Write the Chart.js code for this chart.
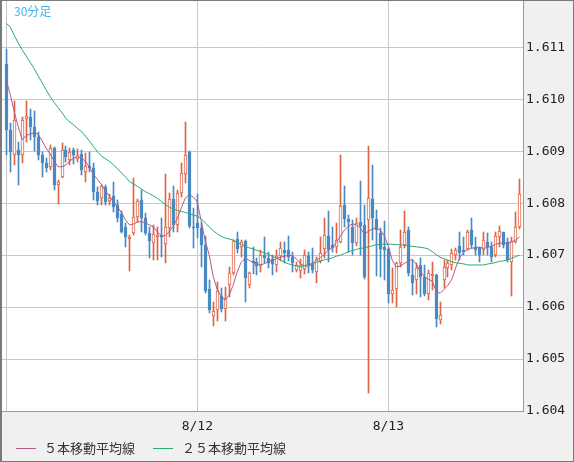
<!DOCTYPE html>
<html>
<head>
<meta charset="utf-8">
<script src="https://cdn.jsdelivr.net/npm/chart.js@4.4.1/dist/chart.umd.min.js"></script>
<style>
  html, body { margin: 0; padding: 0; background: #f0f0f0; }
  #wrap { position: relative; width: 574px; height: 462px; overflow: hidden; }
  #chart { position: absolute; left: 0; top: 0; }
  .title { position: absolute; left: 14px; top: 2px; font: 12px "Noto Sans CJK JP"; color: #45b3ea; }
  .legend { position: absolute; top: 440px; font: 13px "Noto Sans CJK JP"; color: #333; line-height: 16px; white-space: nowrap; }
  .swatch { position: absolute; top: 448px; width: 20px; height: 1px; }
</style>
</head>
<body>
<div id="wrap">
  <canvas id="chart" width="574" height="462"></canvas>
  <div class="title">30分足</div>
  <div class="swatch" style="left:16px; background:#b25c8e;"></div>
  <div class="legend" style="left:44px;">５本移動平均線</div>
  <div class="swatch" style="left:153px; background:#27ad70;"></div>
  <div class="legend" style="left:182px;">２５本移動平均線</div>
</div>
<script>
// 30分足 ローソク足 (1本 = 30分, 8/11 00:00 から)
const opens = [
  1.61067, 1.60941, 1.60893, 1.60903, 1.60893, 1.60962, 1.60966, 1.60947, 1.60928, 1.60893,
  1.60877, 1.60870, 1.60906, 1.60835, 1.60850, 1.60903, 1.60883, 1.60903, 1.60885, 1.60895,
  1.60860, 1.60872, 1.60868, 1.60821, 1.60810, 1.60831, 1.60804, 1.60814, 1.60796, 1.60779,
  1.60754, 1.60731, 1.60742, 1.60773, 1.60806, 1.60771, 1.60742, 1.60723, 1.60735, 1.60738,
  1.60721, 1.60752, 1.60808, 1.60758, 1.60820, 1.60856, 1.60899, 1.60754, 1.60762, 1.60752,
  1.60719, 1.60634, 1.60582, 1.60594, 1.60621, 1.60596, 1.60642, 1.60665, 1.60731, 1.60715,
  1.60727, 1.60642, 1.60688, 1.60686, 1.60679, 1.60700, 1.60694, 1.60692, 1.60681, 1.60698,
  1.60710, 1.60710, 1.60696, 1.60671, 1.60669, 1.60673, 1.60698, 1.60683, 1.60667, 1.60688,
  1.60711, 1.60737, 1.60719, 1.60715, 1.60725, 1.60796, 1.60769, 1.60754, 1.60723, 1.60764,
  1.60758, 1.60767, 1.60808, 1.60769, 1.60742, 1.60715, 1.60711, 1.60626, 1.60634, 1.60684,
  1.60719, 1.60748, 1.60661, 1.60652, 1.60681, 1.60657, 1.60626, 1.60659, 1.60661, 1.60576,
  1.60652, 1.60675, 1.60681, 1.60700, 1.60717, 1.60710, 1.60711, 1.60748, 1.60715, 1.60713,
  1.60710, 1.60725, 1.60715, 1.60700, 1.60735, 1.60744, 1.60725, 1.60686, 1.60725, 1.60754
];
const highs = [
  1.61097, 1.60955, 1.60997, 1.60918, 1.60966, 1.60997, 1.60982, 1.60978, 1.60937, 1.60899,
  1.60887, 1.60912, 1.60908, 1.60845, 1.60916, 1.60910, 1.60906, 1.60906, 1.60904, 1.60903,
  1.60897, 1.60899, 1.60877, 1.60831, 1.60835, 1.60835, 1.60818, 1.60841, 1.60806, 1.60785,
  1.60762, 1.60738, 1.60849, 1.60808, 1.60825, 1.60781, 1.60754, 1.60758, 1.60754, 1.60771,
  1.60856, 1.60820, 1.60833, 1.60825, 1.60877, 1.60957, 1.60901, 1.60791, 1.60818, 1.60764,
  1.60737, 1.60652, 1.60609, 1.60648, 1.60636, 1.60638, 1.60677, 1.60729, 1.60744, 1.60729,
  1.60729, 1.60667, 1.60715, 1.60694, 1.60710, 1.60735, 1.60706, 1.60700, 1.60710, 1.60725,
  1.60725, 1.60737, 1.60706, 1.60686, 1.60692, 1.60710, 1.60706, 1.60713, 1.60696, 1.60735,
  1.60771, 1.60785, 1.60754, 1.60762, 1.60893, 1.60833, 1.60777, 1.60767, 1.60771, 1.60843,
  1.60796, 1.60910, 1.60874, 1.60787, 1.60752, 1.60765, 1.60713, 1.60675, 1.60686, 1.60748,
  1.60785, 1.60754, 1.60690, 1.60684, 1.60694, 1.60681, 1.60671, 1.60686, 1.60663, 1.60609,
  1.60690, 1.60690, 1.60711, 1.60713, 1.60744, 1.60735, 1.60748, 1.60771, 1.60735, 1.60715,
  1.60744, 1.60742, 1.60725, 1.60744, 1.60756, 1.60744, 1.60733, 1.60735, 1.60783, 1.60846
];
const lows = [
  1.60893, 1.60860, 1.60874, 1.60835, 1.60877, 1.60918, 1.60922, 1.60901, 1.60883, 1.60850,
  1.60860, 1.60864, 1.60825, 1.60798, 1.60849, 1.60879, 1.60874, 1.60876, 1.60879, 1.60854,
  1.60841, 1.60860, 1.60806, 1.60796, 1.60796, 1.60796, 1.60796, 1.60783, 1.60764, 1.60742,
  1.60715, 1.60669, 1.60738, 1.60764, 1.60744, 1.60738, 1.60694, 1.60690, 1.60690, 1.60696,
  1.60684, 1.60735, 1.60744, 1.60744, 1.60812, 1.60839, 1.60752, 1.60713, 1.60733, 1.60677,
  1.60628, 1.60588, 1.60563, 1.60574, 1.60590, 1.60574, 1.60619, 1.60661, 1.60704, 1.60696,
  1.60609, 1.60636, 1.60663, 1.60661, 1.60667, 1.60684, 1.60675, 1.60661, 1.60667, 1.60688,
  1.60684, 1.60688, 1.60667, 1.60667, 1.60655, 1.60663, 1.60665, 1.60665, 1.60646, 1.60684,
  1.60694, 1.60686, 1.60706, 1.60704, 1.60723, 1.60754, 1.60706, 1.60700, 1.60717, 1.60700,
  1.60654, 1.60435, 1.60729, 1.60659, 1.60657, 1.60652, 1.60607, 1.60607, 1.60601, 1.60677,
  1.60713, 1.60659, 1.60623, 1.60626, 1.60619, 1.60621, 1.60613, 1.60632, 1.60561, 1.60567,
  1.60636, 1.60657, 1.60671, 1.60690, 1.60690, 1.60700, 1.60710, 1.60713, 1.60700, 1.60686,
  1.60700, 1.60700, 1.60686, 1.60696, 1.60715, 1.60713, 1.60686, 1.60621, 1.60723, 1.60750
];
const closes = [
  1.60941, 1.60899, 1.60960, 1.60893, 1.60960, 1.60968, 1.60947, 1.60928, 1.60893, 1.60877,
  1.60868, 1.60906, 1.60835, 1.60841, 1.60903, 1.60889, 1.60899, 1.60893, 1.60893, 1.60864,
  1.60872, 1.60868, 1.60821, 1.60804, 1.60833, 1.60802, 1.60810, 1.60792, 1.60771, 1.60744,
  1.60735, 1.60735, 1.60773, 1.60804, 1.60771, 1.60742, 1.60727, 1.60740, 1.60738, 1.60735,
  1.60754, 1.60808, 1.60758, 1.60820, 1.60858, 1.60893, 1.60756, 1.60752, 1.60752, 1.60719,
  1.60630, 1.60594, 1.60592, 1.60630, 1.60596, 1.60617, 1.60665, 1.60727, 1.60711, 1.60725,
  1.60655, 1.60665, 1.60684, 1.60679, 1.60700, 1.60694, 1.60684, 1.60683, 1.60698, 1.60713,
  1.60704, 1.60696, 1.60684, 1.60681, 1.60681, 1.60700, 1.60681, 1.60671, 1.60692, 1.60704,
  1.60738, 1.60710, 1.60713, 1.60729, 1.60794, 1.60769, 1.60764, 1.60723, 1.60762, 1.60756,
  1.60657, 1.60810, 1.60771, 1.60748, 1.60711, 1.60710, 1.60625, 1.60632, 1.60684, 1.60715,
  1.60744, 1.60665, 1.60646, 1.60675, 1.60657, 1.60626, 1.60665, 1.60663, 1.60578, 1.60584,
  1.60677, 1.60684, 1.60704, 1.60710, 1.60704, 1.60706, 1.60744, 1.60719, 1.60710, 1.60700,
  1.60729, 1.60715, 1.60696, 1.60737, 1.60746, 1.60719, 1.60690, 1.60727, 1.60754, 1.60818
];
// 5本移動平均線
const ma5 = [
  1.61036, 1.61009, 1.60976, 1.60947, 1.60922, 1.60930, 1.60933, 1.60935, 1.60933, 1.60920,
  1.60906, 1.60895, 1.60881, 1.60870, 1.60870, 1.60874, 1.60881, 1.60887, 1.60889, 1.60887,
  1.60879, 1.60868, 1.60854, 1.60845, 1.60835, 1.60823, 1.60812, 1.60802, 1.60792, 1.60781,
  1.60767, 1.60758, 1.60760, 1.60764, 1.60764, 1.60762, 1.60758, 1.60754, 1.60744, 1.60737,
  1.60737, 1.60746, 1.60756, 1.60771, 1.60791, 1.60810, 1.60816, 1.60812, 1.60802, 1.60765,
  1.60727, 1.60700, 1.60659, 1.60634, 1.60621, 1.60613, 1.60623, 1.60642, 1.60667, 1.60686,
  1.60694, 1.60690, 1.60686, 1.60683, 1.60681, 1.60684, 1.60688, 1.60690, 1.60694, 1.60696,
  1.60698, 1.60700, 1.60698, 1.60692, 1.60683, 1.60679, 1.60679, 1.60684, 1.60690, 1.60696,
  1.60702, 1.60710, 1.60715, 1.60725, 1.60737, 1.60748, 1.60756, 1.60760, 1.60758, 1.60752,
  1.60740, 1.60746, 1.60750, 1.60752, 1.60748, 1.60737, 1.60717, 1.60690, 1.60677, 1.60679,
  1.60684, 1.60688, 1.60692, 1.60683, 1.60669, 1.60659, 1.60654, 1.60650, 1.60632, 1.60626,
  1.60634, 1.60642, 1.60654, 1.60677, 1.60696, 1.60706, 1.60711, 1.60713, 1.60715, 1.60715,
  1.60713, 1.60715, 1.60717, 1.60721, 1.60723, 1.60723, 1.60723, 1.60725, 1.60729, 1.60735
];
// 25本移動平均線
const ma25 = [
  1.61146, 1.61139, 1.61123, 1.61108, 1.61095, 1.61083, 1.61071, 1.61059, 1.61045, 1.61032,
  1.61018, 1.61005, 1.60994, 1.60984, 1.60974, 1.60963, 1.60956, 1.60950, 1.60943, 1.60937,
  1.60928, 1.60918, 1.60908, 1.60898, 1.60890, 1.60885, 1.60880, 1.60873, 1.60866, 1.60858,
  1.60850, 1.60841, 1.60837, 1.60832, 1.60827, 1.60822, 1.60818, 1.60814, 1.60809, 1.60803,
  1.60797, 1.60792, 1.60789, 1.60786, 1.60784, 1.60782, 1.60780, 1.60777, 1.60775, 1.60770,
  1.60762, 1.60754, 1.60747, 1.60741, 1.60736, 1.60733, 1.60731, 1.60729, 1.60725, 1.60721,
  1.60717, 1.60714, 1.60712, 1.60709, 1.60707, 1.60704, 1.60701, 1.60697, 1.60694, 1.60690,
  1.60686, 1.60683, 1.60681, 1.60679, 1.60677, 1.60680, 1.60682, 1.60684, 1.60686, 1.60689,
  1.60691, 1.60693, 1.60695, 1.60698, 1.60700, 1.60703, 1.60706, 1.60709, 1.60711, 1.60713,
  1.60714, 1.60716, 1.60718, 1.60720, 1.60721, 1.60721, 1.60721, 1.60721, 1.60720, 1.60720,
  1.60719, 1.60718, 1.60717, 1.60716, 1.60715, 1.60714, 1.60712, 1.60707, 1.60701, 1.60696,
  1.60693, 1.60690, 1.60687, 1.60685, 1.60684, 1.60683, 1.60681, 1.60681, 1.60681, 1.60681,
  1.60681, 1.60683, 1.60684, 1.60686, 1.60688, 1.60689, 1.60691, 1.60694, 1.60697, 1.60700
];
// 日付の区切り (ローソク足の番号) とラベル
const dayTicks = [0, 48, 96];
const dayLabels = ['', '8/12', '8/13'];
const priceTicks = [1.604, 1.605, 1.606, 1.607, 1.608, 1.609, 1.610, 1.611];

const UP = '#dd6444';
const DOWN = '#4a89c2';

const isUp = i => closes[i] >= opens[i];

const wickData = highs.map((h, i) => ({ x: i, y: [lows[i], h] }));
const bodyData = opens.map((o, i) => ({ x: i, y: [o, closes[i]] }));
const ma5Data = ma5.map((v, i) => ({ x: i, y: v }));
const ma25Data = ma25.map((v, i) => ({ x: i, y: v }));

// ローソク足を画素に合わせる (にじみ防止)
const snapPlugin = {
  id: 'snap',
  afterDatasetsUpdate(chart) {
    chart.data.datasets.forEach((ds, di) => {
      const meta = chart.getDatasetMeta(di);
      if (meta.type !== 'bar') return;
      meta.data.forEach(el => {
        el.x = Math.floor(el.x) + 0.5;
        el.y = Math.round(el.y);
        el.base = Math.round(el.base);
      });
    });
  }
};

// 背景と枠
const framePlugin = {
  id: 'frame',
  beforeDraw(chart) {
    const { ctx, chartArea: a, width, height } = chart;
    ctx.save();
    ctx.fillStyle = '#f0f0f0';
    ctx.fillRect(0, 0, width, height);
    ctx.fillStyle = '#ffffff';
    ctx.fillRect(a.left, a.top, a.right - a.left, a.bottom - a.top);
    ctx.restore();
  },
  afterDraw(chart) {
    const { ctx, chartArea: a, width, height } = chart;
    ctx.save();
    ctx.strokeStyle = '#9a9a9a';
    ctx.lineWidth = 1;
    ctx.beginPath();
    ctx.moveTo(a.right + 0.5, a.top);
    ctx.lineTo(a.right + 0.5, a.bottom + 1);
    ctx.moveTo(a.left, a.bottom + 0.5);
    ctx.lineTo(a.right + 1, a.bottom + 0.5);
    ctx.stroke();
    ctx.strokeStyle = '#7a7a7a';
    ctx.strokeRect(0.5, 0.5, width - 1, height - 1);
    ctx.fillStyle = '#7a7a7a';
    ctx.fillRect(0, 0, 2, height);
    ctx.restore();
  }
};

new Chart(document.getElementById('chart'), {
  type: 'bar',
  data: {
    datasets: [
      {
        type: 'line',
        label: '５本移動平均線',
        data: ma5Data,
        borderColor: '#b25c8e',
        borderWidth: 1,
        pointRadius: 0,
        order: 1
      },
      {
        type: 'line',
        label: '２５本移動平均線',
        data: ma25Data,
        borderColor: '#27ad70',
        borderWidth: 1,
        pointRadius: 0,
        order: 1
      },
      {
        label: 'body',
        data: bodyData,
        grouped: false,
        barThickness: 3,
        minBarLength: 1,
        borderWidth: 1,
        borderSkipped: false,
        backgroundColor: ctx => isUp(ctx.dataIndex) ? '#ffffff' : DOWN,
        borderColor: ctx => isUp(ctx.dataIndex) ? UP : DOWN,
        order: 2
      },
      {
        label: 'wick',
        data: wickData,
        grouped: false,
        barThickness: 1,
        borderWidth: 0,
        backgroundColor: ctx => isUp(ctx.dataIndex) ? UP : DOWN,
        order: 3
      }
    ]
  },
  options: {
    responsive: false,
    animation: false,
    devicePixelRatio: 1,
    layout: { padding: { left: 2, top: 1, right: 0, bottom: 0 } },
    plugins: {
      legend: { display: false },
      tooltip: { enabled: false }
    },
    scales: {
      x: {
        type: 'linear',
        offset: false,
        min: -1.08,
        max: 129.85,
        afterFit: scale => {
          scale.height = 51;
          scale.paddingLeft = 0;
          scale.paddingRight = 0;
        },
        afterBuildTicks: scale => { scale.ticks = dayTicks.map(v => ({ value: v })); },
        ticks: {
          autoSkip: false,
          maxRotation: 0,
          padding: 8,
          color: '#222',
          font: { family: 'DejaVu Sans Mono', size: 13 },
          callback: (value, index) => dayLabels[index]
        },
        grid: { color: '#c8c8c8', drawTicks: false, offset: false },
        border: { display: false }
      },
      y: {
        position: 'right',
        min: 1.604,
        max: 1.61189,
        afterFit: scale => {
          scale.width = 51;
          scale.paddingTop = 0;
          scale.paddingBottom = 0;
        },
        afterBuildTicks: scale => { scale.ticks = priceTicks.map(v => ({ value: v })); },
        ticks: {
          padding: 3,
          color: '#222',
          font: { family: 'DejaVu Sans Mono', size: 13 },
          callback: value => value.toFixed(3)
        },
        grid: { color: '#c8c8c8', drawTicks: false },
        border: { display: false }
      }
    }
  },
  plugins: [snapPlugin, framePlugin]
});
</script>
</body>
</html>
